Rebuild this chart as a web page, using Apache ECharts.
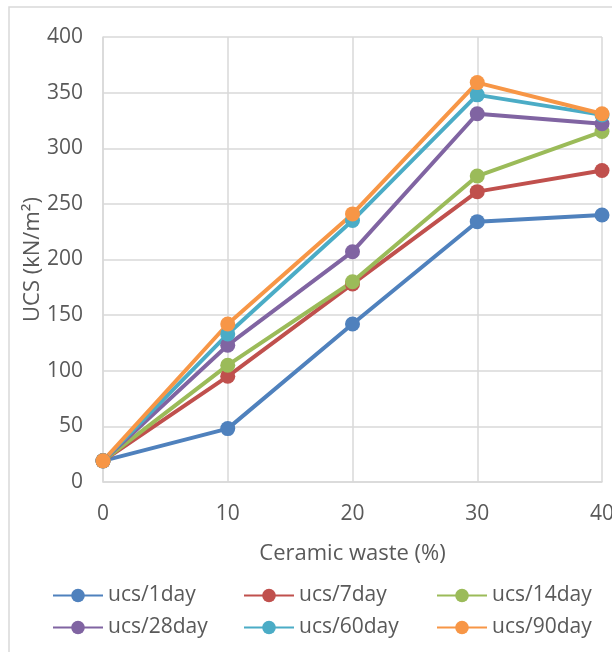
<!DOCTYPE html>
<html>
<head>
<meta charset="utf-8">
<script src="https://cdn.jsdelivr.net/npm/echarts@6/dist/echarts.min.js"></script>
<style>
  html, body { margin: 0; padding: 0; background: #fff; }
  #chart { width: 612px; height: 652px; }
</style>
</head>
<body>
<div id="chart"></div>
<script>
// ceramic waste content (%) on x
const wastePct = [0, 10, 20, 30, 40];

// UCS values (kN/m2)
const ucs1day = [19, 48, 142, 234, 240];
const ucs7day = [19, 95, 178, 261, 280];
const ucs14day = [19, 105, 180, 275, 315];
const ucs28day = [19, 123, 207, 331, 322];
const ucs60day = [19, 133, 235, 348, 330];
const ucs90day = [19, 142, 241, 359, 331];

const seriesNames = ['ucs/1day', 'ucs/7day', 'ucs/14day', 'ucs/28day', 'ucs/60day', 'ucs/90day'];
const seriesData = [ucs1day, ucs7day, ucs14day, ucs28day, ucs60day, ucs90day];
const colors = ['#4F81BD', '#C0504D', '#9BBB59', '#8064A2', '#4BACC6', '#F79646'];

const fontFamily = '"Open Sans", "Noto Sans", sans-serif';
const textColor = '#595959';
const gridColor = '#D9D9D9';

const chart = echarts.init(document.getElementById('chart'));

const legendBase = {
  orient: 'vertical',
  top: 578,
  itemWidth: 50,
  itemHeight: 17,
  itemGap: 7,
  textStyle: { color: textColor, fontSize: 21, fontFamily: fontFamily, lineHeight: 25 },
};

chart.setOption({
  animation: false,
  color: colors,
  graphic: [
    {
      type: 'rect',
      shape: { x: 9, y: 7, width: 620, height: 660 },
      style: { fill: 'none', stroke: gridColor, lineWidth: 1.5 },
      silent: true,
    },
  ],
  grid: { left: 103, right: 10, top: 37, bottom: 170, outerBoundsMode: 'none' },
  legend: [
    Object.assign({}, legendBase, { left: 47, data: ['ucs/1day', 'ucs/28day'] }),
    Object.assign({}, legendBase, { left: 238, data: ['ucs/7day', 'ucs/60day'] }),
    Object.assign({}, legendBase, { left: 431, data: ['ucs/14day', 'ucs/90day'] }),
  ],
  xAxis: {
    type: 'value',
    min: 0,
    max: 40,
    interval: 10,
    name: 'Ceramic waste (%)',
    nameLocation: 'middle',
    nameGap: 61,
    nameTextStyle: { color: textColor, fontSize: 22, fontFamily: fontFamily },
    axisLine: { show: true, lineStyle: { color: gridColor, width: 1.5 } },
    axisTick: { show: false },
    axisLabel: { color: textColor, fontSize: 21, fontFamily: fontFamily, margin: 22 },
    splitLine: { show: true, lineStyle: { color: gridColor, width: 1.5 } },
  },
  yAxis: {
    type: 'value',
    min: 0,
    max: 400,
    interval: 50,
    name: 'UCS (kN/m²)',
    nameLocation: 'middle',
    nameGap: 59,
    nameMoveOverlap: false,
    nameTextStyle: { color: textColor, fontSize: 22, fontFamily: fontFamily },
    axisLine: { show: true, lineStyle: { color: gridColor, width: 1.5 } },
    axisTick: { show: false },
    axisLabel: { color: textColor, fontSize: 21, fontFamily: fontFamily, margin: 20 },
    splitLine: { show: true, lineStyle: { color: gridColor, width: 1.5 } },
  },
  series: seriesNames.map((name, i) => ({
    name: name,
    type: 'line',
    data: wastePct.map((x, j) => [x, seriesData[i][j]]),
    symbol: 'circle',
    symbolSize: 15,
    lineStyle: { width: 4 },
    itemStyle: { color: colors[i] },
  })),
});
</script>
</body>
</html>
